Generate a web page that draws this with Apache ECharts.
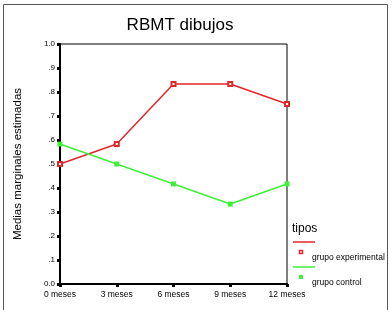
<!DOCTYPE html>
<html>
<head>
<meta charset="utf-8">
<script src="https://cdn.jsdelivr.net/npm/echarts@6/dist/echarts.min.js"></script>
<style>
  html, body { margin: 0; padding: 0; background: #fff; }
  #chart { width: 392px; height: 310px; }
</style>
</head>
<body>
<div id="chart"></div>
<script>
var categories = ['0 meses', '3 meses', '6 meses', '9 meses', '12 meses'];
var experimental = [0.5, 0.583, 0.833, 0.833, 0.75];
var control = [0.583, 0.5, 0.417, 0.333, 0.417];
var yLabels = ['0.0', '.1', '.2', '.3', '.4', '.5', '.6', '.7', '.8', '.9', '1.0'];

var chart = echarts.init(document.getElementById('chart'));
var option = {
    animation: false,
    title: {
        text: 'RBMT dibujos',
        left: 175,
        top: 12,
        textAlign: 'center',
        textStyle: { fontFamily: 'Liberation Sans', fontWeight: 'normal', fontSize: 17, color: '#000' }
    },
    grid: {
        left: 60, right: 105, top: 44, bottom: 26,
        show: true, borderColor: '#000', borderWidth: 1
    },
    xAxis: {
        type: 'category',
        data: categories,
        boundaryGap: false,
        axisLine: { lineStyle: { color: '#000', width: 2 } },
        axisTick: { alignWithLabel: true, length: 3, lineStyle: { color: '#000', width: 3 } },
        axisLabel: { color: '#000', fontSize: 8.5, fontFamily: 'Liberation Sans', margin: 6 }
    },
    yAxis: {
        type: 'value',
        min: 0, max: 1, interval: 0.1,
        name: 'Medias marginales estimadas',
        nameLocation: 'middle',
        nameGap: 36,
        nameTextStyle: { color: '#000', fontSize: 11.5, fontFamily: 'Liberation Sans' },
        splitLine: { show: false },
        axisLine: { show: true, lineStyle: { color: '#000', width: 2 } },
        axisTick: { show: true, length: 3, lineStyle: { color: '#000', width: 3 } },
        axisLabel: {
            color: '#000', fontSize: 8, fontFamily: 'Liberation Sans', margin: 5,
            formatter: function (v) { return yLabels[Math.round(v * 10)]; }
        }
    },
    series: [
        {
            name: 'grupo experimental',
            type: 'line',
            data: experimental,
            symbol: 'emptyRect',
            symbolSize: 4,
            lineStyle: { color: '#e3262b', width: 1.5 },
            itemStyle: { color: '#e3262b', borderWidth: 1.2 }
        },
        {
            name: 'grupo control',
            type: 'line',
            data: control,
            symbol: 'rect',
            symbolSize: 5,
            lineStyle: { color: '#3ef03a', width: 1.5 },
            itemStyle: { color: '#3ef03a' }
        }
    ],
    graphic: [
        { type: 'rect', shape: { x: 3.5, y: 4.5, width: 384, height: 310 }, style: { fill: 'none', stroke: '#555', lineWidth: 1 }, z: -1 },
        { type: 'text', left: 292, top: 223, style: { text: 'tipos', fontSize: 12, fontFamily: 'Liberation Sans', fill: '#000' } },
        { type: 'line', shape: { x1: 293, y1: 242, x2: 315, y2: 242 }, style: { stroke: '#e3262b', lineWidth: 1.5 } },
        { type: 'rect', shape: { x: 299.5, y: 250.5, width: 3, height: 3 }, style: { fill: '#fff', stroke: '#e3262b', lineWidth: 1.5 } },
        { type: 'text', left: 312, top: 253, style: { text: 'grupo experimental', fontSize: 8.5, fontFamily: 'Liberation Sans', fill: '#000' } },
        { type: 'line', shape: { x1: 293, y1: 267, x2: 315, y2: 267 }, style: { stroke: '#3ef03a', lineWidth: 1.5 } },
        { type: 'rect', shape: { x: 299, y: 275, width: 4, height: 4 }, style: { fill: '#3ef03a' } },
        { type: 'text', left: 312, top: 278, style: { text: 'grupo control', fontSize: 8.5, fontFamily: 'Liberation Sans', fill: '#000' } }
    ]
};
chart.setOption(option);
window.onresize = chart.resize;
</script>
</body>
</html>
